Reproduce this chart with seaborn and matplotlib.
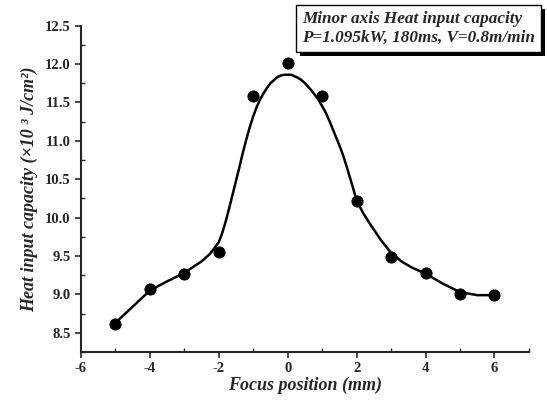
import matplotlib
matplotlib.use('Agg')
import matplotlib.pyplot as plt
import matplotlib.patheffects as pe
from matplotlib.ticker import MultipleLocator
import numpy as np
import pandas as pd
import seaborn as sns

# measured points
focus = [-5, -4, -3, -2, -1, 0, 1, 2, 3, 4, 5, 6]
heat = [8.62, 9.07, 9.26, 9.55, 11.58, 12.01, 11.58, 10.21, 9.49, 9.28, 9.00, 8.99]

# fitted curve
curve_x = [-5.0, -4.5, -4.0, -3.5, -3.0, -2.5, -2.25, -2.0, -1.9, -1.8, -1.7, -1.6,
           -1.5, -1.4, -1.3, -1.2, -1.1, -1.0, -0.9, -0.8, -0.7, -0.6, -0.5, -0.4,
           -0.3, -0.2, -0.1, 0.0, 0.1, 0.2, 0.3, 0.4, 0.5, 0.6, 0.7, 0.8, 0.9,
           1.0, 1.1, 1.2, 1.3, 1.4, 1.5, 1.6, 1.7, 1.8, 1.9, 2.0, 2.2, 2.4, 2.7,
           3.0, 3.3, 3.6, 4.0, 4.5, 5.0, 5.5, 6.0]
curve_y = [8.63, 8.84, 9.05, 9.17, 9.28, 9.43, 9.53, 9.68, 9.80, 9.95, 10.12, 10.30,
           10.48, 10.66, 10.85, 11.02, 11.18, 11.32, 11.44, 11.54, 11.62, 11.69, 11.75, 11.79,
           11.83, 11.85, 11.86, 11.86, 11.86, 11.84, 11.82, 11.79, 11.75, 11.70, 11.65, 11.59, 11.53,
           11.45, 11.37, 11.27, 11.16, 11.05, 10.94, 10.82, 10.68, 10.53, 10.38, 10.22, 10.05, 9.91, 9.71,
           9.54, 9.43, 9.35, 9.27, 9.14, 9.03, 8.99, 8.99]

sns.set_style('ticks')
plt.rcParams['font.family'] = ['Liberation Serif', 'DejaVu Serif']
plt.rcParams['axes.unicode_minus'] = False

pts = pd.DataFrame({'x': focus, 'y': heat})
fit = pd.DataFrame({'x': curve_x, 'y': curve_y})

fig = plt.figure(figsize=(5.47, 4.0), dpi=100)
ax = fig.add_axes([0.148, 0.12, 0.819, 0.816])

sns.lineplot(data=fit, x='x', y='y', ax=ax, color='black', lw=1.8, sort=False)
sns.scatterplot(data=pts, x='x', y='y', ax=ax, color='black', s=65, edgecolor='black', zorder=3)

ax.set_xlim(-6, 7)
ax.set_ylim(8.25, 12.5)
yt = np.arange(8.5, 12.51, 0.5)
ax.set_xticks(range(-6, 7, 2))
ax.set_yticks(yt)
ax.set_xticklabels([str(v) for v in range(-6, 7, 2)], fontweight='bold')
ax.set_yticklabels([f'{v:.1f}' for v in yt], fontweight='bold')
ax.xaxis.set_minor_locator(MultipleLocator(1))
ax.yaxis.set_minor_locator(MultipleLocator(0.25))
ax.tick_params(which='major', direction='out', length=4, width=1.2, labelsize=10.5)
ax.tick_params(which='minor', direction='in', length=3, width=1.0)

for s in ['top', 'right']:
    ax.spines[s].set_visible(False)
for s in ['left', 'bottom']:
    ax.spines[s].set_linewidth(1.5)

ax.set_xlabel('Focus position (mm)', fontsize=13, fontweight='bold', style='italic', labelpad=1)
ax.set_ylabel('Heat input capacity (×10 ³ J/cm²)', fontsize=13, fontweight='bold',
              style='italic', labelpad=5)

t = ax.text(0.552, 0.972, 'Minor axis Heat input capacity\nP=1.095kW, 180ms, V=0.8m/min',
            transform=fig.transFigure, ha='left', va='top', fontsize=12.3,
            fontweight='bold', style='italic', linespacing=1.2,
            bbox=dict(boxstyle='square,pad=0.35', fc='white', ec='black', lw=1.0))
t.get_bbox_patch().set_path_effects([
    pe.SimplePatchShadow(offset=(3, -3), shadow_rgbFace='black', alpha=1.0),
    pe.Normal()])

fig.savefig('out.png', dpi=100)
